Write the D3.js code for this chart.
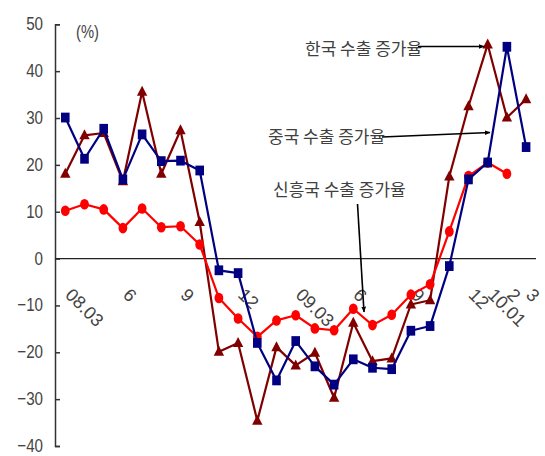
<!DOCTYPE html>
<html>
<head>
<meta charset="utf-8">
<script src="https://cdn.jsdelivr.net/npm/d3@7"></script>
<style>
  html, body { margin: 0; padding: 0; background: #fff; }
  svg { display: block; }
  .num { font-family: 'Liberation Sans', Arial, sans-serif; fill: #444; }
  .kr { font-family: 'Noto Sans CJK KR', sans-serif; fill: #404040; }
</style>
</head>
<body>
<svg id="chart" width="545" height="456"></svg>
<script>
// ---- data ----
const categories = ["08.03","08.04","08.05","08.06","08.07","08.08","08.09","08.10","08.11","08.12",
  "09.01","09.02","09.03","09.04","09.05","09.06","09.07","09.08","09.09","09.10","09.11","09.12",
  "10.01","10.02","10.03"];
const tickLabels = ["08.03","","","6","","","9","","","12",
  "","","09.03","","","6","","","9","","","12",
  "10.01","2","3"];
const korea = [18.1,26.3,26.8,16.5,35.6,18.1,27.4,7.8,-19.9,-18.0,-34.6,-18.9,-22.8,-20.1,-29.7,-13.7,-21.9,-21.3,-9.8,-8.9,17.5,32.5,45.7,30.1,34.0];
const china = [30.1,21.3,27.7,16.9,26.5,20.8,20.9,18.8,-2.5,-3.1,-18.0,-26.0,-17.6,-23.0,-26.9,-21.5,-23.3,-23.6,-15.4,-14.4,-1.6,16.9,20.5,45.2,23.8];
const emerging = [10.2,11.6,10.5,6.5,10.7,6.7,6.9,3.0,-8.4,-12.8,-16.7,-13.2,-12.1,-14.9,-15.3,-10.7,-14.2,-12.0,-7.7,-5.5,5.8,17.6,20.5,18.1];
const yTicks = [50,40,30,20,10,0,-10,-20,-30,-40];
const unitLabel = "(%)";
const annKorea = "한국 수출 증가율";
const annChina = "중국 수출 증가율";
const annEmerging = "신흥국 수출 증가율";

// ---- scales ----
const svg = d3.select("#chart");
const x = d3.scalePoint().domain(categories).range([65.3, 526.1]);
const y = d3.scaleLinear().domain([-40, 50]).range([446, 24.3]);
const axisX = 55, rightX = 536;
const narrow = 0.82;

// y axis
const yAxis = d3.axisLeft(y).tickValues(yTicks).tickSize(-5).tickPadding(12)
  .tickFormat(d => d < 0 ? "\u2212" + Math.abs(d) : String(d));
const gy = svg.append("g").attr("transform", `translate(${axisX},0)`).call(yAxis);
gy.select(".domain").attr("stroke", "#333").attr("stroke-width", 1.5);
gy.selectAll(".tick line").attr("stroke", "#333").attr("stroke-width", 1.5);
gy.selectAll(".tick text").attr("class", "num").attr("font-size", 18.5).attr("fill", "#444")
  .attr("dy", "0.3em").attr("x", -12 / narrow).attr("transform", `scale(${narrow},1)`);

// zero line
svg.append("line").attr("x1", axisX).attr("x2", rightX).attr("y1", y(0)).attr("y2", y(0))
  .attr("stroke", "#222").attr("stroke-width", 1.3);

// unit label
svg.append("text").attr("class", "num").attr("font-size", 18)
  .attr("transform", `translate(76,38) scale(${narrow},1)`).text(unitLabel);

// x labels (rotated)
svg.append("g").selectAll("text").data(categories.map((c, i) => ({c, t: tickLabels[i]})).filter(d => d.t))
  .join("text").attr("class", "num").attr("font-size", 18)
  .attr("transform", d => `translate(${x(d.c) - 1},296) rotate(45)`)
  .text(d => d.t);

// series
function drawLine(values, color, width) {
  const line = d3.line().x((d, i) => x(categories[i])).y(d => y(d));
  svg.append("path").datum(values).attr("d", line).attr("fill", "none")
    .attr("stroke", color).attr("stroke-width", width).attr("stroke-linejoin", "round");
}
// Korea (bottom)
drawLine(korea, "#800000", 2.2);
svg.append("g").selectAll("path").data(korea).join("path")
  .attr("d", "M0,-6 L5.2,4 L-5.2,4 Z")
  .attr("transform", (d, i) => `translate(${x(categories[i])},${y(d)})`)
  .attr("fill", "#800000");
// Emerging
drawLine(emerging, "#ff0000", 2.2);
svg.append("g").selectAll("ellipse").data(emerging).join("ellipse")
  .attr("cx", (d, i) => x(categories[i])).attr("cy", d => y(d))
  .attr("rx", 4.4).attr("ry", 5.3).attr("fill", "#ff0000");
// China (top)
drawLine(china, "#000080", 2.2);
svg.append("g").selectAll("rect").data(china).join("rect")
  .attr("x", (d, i) => x(categories[i]) - 4.3).attr("y", d => y(d) - 4.9)
  .attr("width", 8.6).attr("height", 9.8).attr("fill", "#000080");

// annotations
const defs = svg.append("defs");
defs.append("marker").attr("id", "arr").attr("viewBox", "0 0 10 10").attr("refX", 9).attr("refY", 5)
  .attr("markerWidth", 6).attr("markerHeight", 6).attr("orient", "auto").attr("markerUnits", "userSpaceOnUse")
  .append("path").attr("d", "M0,1 L10,5 L0,9 Z").attr("fill", "#000");
function arrow(x1, y1, x2, y2) {
  svg.append("line").attr("x1", x1).attr("y1", y1).attr("x2", x2).attr("y2", y2)
    .attr("stroke", "#000").attr("stroke-width", 1.6).attr("marker-end", "url(#arr)");
}
svg.append("text").attr("class", "kr").attr("font-size", 17).attr("x", 305).attr("y", 55).text(annKorea);
arrow(418, 46.5, 484, 46.5);
svg.append("text").attr("class", "kr").attr("font-size", 17).attr("x", 268).attr("y", 143).text(annChina);
arrow(382, 137, 490, 132.5);
svg.append("text").attr("class", "kr").attr("font-size", 17).attr("x", 273).attr("y", 196).text(annEmerging);
arrow(357.5, 204, 364, 312);
</script>
</body>
</html>
